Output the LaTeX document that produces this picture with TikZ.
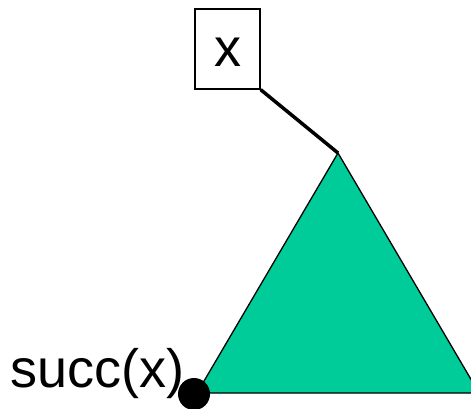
\documentclass[tikz,border=0pt]{standalone}
\usepackage{fontspec}
\setmainfont{Liberation Sans}
\usetikzlibrary{positioning}
\definecolor{treegreen}{HTML}{00CC99}

\begin{document}
\begin{tikzpicture}[
    x=1pt, y=-1pt,
    every node/.style={font=\fontsize{54}{64}\selectfont},
    keybox/.style={
        draw, line width=1.3pt,
        minimum width=65pt, minimum height=80pt,
        inner sep=0pt, text height=36pt, text depth=0pt
    },
    subtree/.style={draw, line width=1.3pt, fill=treegreen},
    edge/.style={line width=3.5pt},
    succdot/.style={circle, fill=black, minimum size=32pt, inner sep=0pt}
]

% ── CANVAS ─────────────────────────────────────────────────────
\useasboundingbox (0,0) rectangle (471,409);

% === KEY ===
\node[keybox] (xbox) at (227.5,49) {x};

% === SUBTREE ===
\coordinate (apex) at (338,153);
\coordinate (left) at (197,393);
\coordinate (right) at (479,393);
\draw[subtree] (apex) -- (left) -- (right) -- cycle;

% === SUCCESSOR ===
\node[succdot] (succ) at (194,394) {};
\node[anchor=base east] (succlbl) at (188,387) {succ(x)};

% ── EDGES ──────────────────────────────────────────────────────
\draw[edge] (xbox.south east) -- (apex);

\end{tikzpicture}
\end{document}
